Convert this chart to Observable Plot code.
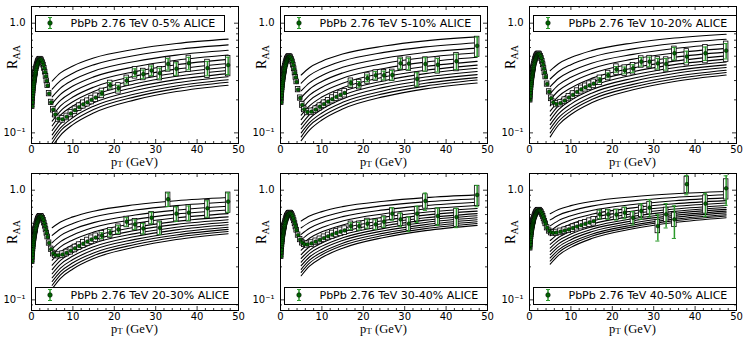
<!DOCTYPE html>
<html><head><meta charset="utf-8">
<script src="https://cdn.jsdelivr.net/npm/d3@7"></script>
<script src="https://cdn.jsdelivr.net/npm/@observablehq/plot@0.6"></script>
<style>
body{margin:0;background:#fff;}
#wrap{position:relative;width:744px;height:337px;overflow:hidden;background:#fff;}
.panel{position:absolute;}
.xl{position:absolute;font-family:"Liberation Serif",serif;font-size:12.5px;line-height:1;white-space:nowrap;transform:translateX(-50%);color:#000;}
.yl{position:absolute;font-family:"Liberation Serif",serif;font-size:14px;line-height:1;white-space:nowrap;transform:translate(-50%,-50%) rotate(-90deg);color:#000;}
.sub{font-size:10px;position:relative;top:3px;}
.xl .sub{font-size:9px;top:1px;}
.leg{position:absolute;border:1px solid #000;background:#fff;height:15.5px;line-height:15.5px;font-family:"DejaVu Sans",sans-serif;font-size:11px;padding:0 9px 0 34.5px;white-space:nowrap;color:#000;}
.leg svg{position:absolute;left:0;top:0;}
</style>
</head><body><div id="wrap"></div>
<script>
// ---------- data ----------
const centralities = ["0-5%","5-10%","10-20%","20-30%","30-40%","40-50%"];
const pT = [0.175,0.225,0.275,0.325,0.375,0.425,0.475,0.525,0.575,0.625,0.675,0.725,0.775,0.825,0.875,0.925,0.975,
 1.05,1.15,1.25,1.35,1.45,1.55,1.65,1.75,1.85,1.95,
 2.1,2.3,2.5,2.7,2.9,3.1,3.3,3.5,3.7,3.9,
 4.25,4.75,5.25,5.75,6.5,7.5,8.5,9.5,
 10.5,11.5,12.5,13.5,14.5,15.5,
 17,19,21,23,25,27,29,31,33,35,38,42.5,47.5];
const sysRel = [0.055,0.055,0.055,0.055,0.055,0.055,0.055,0.055,0.055,0.055,0.055,0.055,0.055,0.055,0.055,0.055,0.055,
 0.05,0.05,0.05,0.05,0.05,0.05,0.05,0.05,0.05,0.05,
 0.05,0.05,0.05,0.05,0.05,0.05,0.05,0.05,0.05,0.05,
 0.055,0.055,0.06,0.06,0.065,0.07,0.07,0.075,
 0.08,0.08,0.085,0.085,0.09,0.09,
 0.10,0.10,0.11,0.11,0.12,0.12,0.13,0.14,0.15,0.15,0.17,0.19,0.21];
const raa_0_5 = [0.175,0.19,0.205,0.22,0.232,0.245,0.257,0.268,0.279,0.29,0.30,0.31,0.32,0.33,0.34,0.348,0.357,
 0.37,0.385,0.40,0.413,0.425,0.437,0.447,0.455,0.462,0.467,
 0.47,0.466,0.455,0.437,0.415,0.388,0.358,0.328,0.298,0.27,
 0.228,0.19,0.163,0.147,0.135,0.133,0.14,0.15,
 0.161,0.172,0.182,0.19,0.2,0.21,
 0.23,0.272,0.256,0.30,0.355,0.343,0.37,0.35,0.425,0.385,0.432,0.39,0.415];
const raa_5_10 = [0.19,0.205,0.22,0.235,0.248,0.261,0.273,0.285,0.296,0.307,0.318,0.328,0.338,0.348,0.358,0.367,0.376,
 0.39,0.405,0.42,0.434,0.447,0.459,0.47,0.479,0.487,0.493,
 0.497,0.495,0.485,0.467,0.444,0.415,0.384,0.352,0.321,0.292,
 0.248,0.208,0.18,0.164,0.155,0.156,0.163,0.173,
 0.183,0.193,0.203,0.213,0.222,0.231,
 0.285,0.277,0.315,0.335,0.335,0.337,0.431,0.428,0.31,0.425,0.418,0.45,0.622];
const raa_10_20 = [0.20,0.216,0.232,0.247,0.261,0.275,0.288,0.300,0.312,0.323,0.334,0.345,0.355,0.365,0.375,0.384,0.393,
 0.408,0.424,0.44,0.455,0.469,0.482,0.494,0.504,0.512,0.518,
 0.524,0.525,0.517,0.5,0.477,0.449,0.418,0.386,0.354,0.324,
 0.279,0.237,0.207,0.19,0.183,0.187,0.197,0.21,
 0.222,0.236,0.249,0.26,0.271,0.281,
 0.303,0.335,0.38,0.372,0.387,0.446,0.446,0.43,0.425,0.532,0.496,0.532,0.562];
const raa_20_30 = [0.225,0.243,0.261,0.278,0.294,0.309,0.323,0.337,0.350,0.362,0.374,0.386,0.397,0.408,0.418,0.428,0.437,
 0.452,0.47,0.487,0.503,0.518,0.532,0.545,0.556,0.565,0.572,
 0.578,0.579,0.571,0.554,0.531,0.502,0.47,0.437,0.405,0.375,
 0.33,0.29,0.265,0.256,0.255,0.259,0.268,0.28,
 0.295,0.31,0.325,0.34,0.355,0.37,
 0.386,0.409,0.439,0.516,0.488,0.448,0.561,0.454,0.827,0.611,0.624,0.684,0.787];
const raa_30_40 = [0.25,0.27,0.289,0.307,0.324,0.34,0.355,0.369,0.383,0.396,0.408,0.42,0.431,0.442,0.452,0.462,0.471,
 0.486,0.504,0.521,0.537,0.552,0.566,0.579,0.59,0.6,0.608,
 0.616,0.62,0.615,0.602,0.583,0.557,0.527,0.495,0.463,0.432,
 0.39,0.355,0.333,0.322,0.32,0.327,0.339,0.352,
 0.366,0.38,0.394,0.407,0.419,0.43,
 0.471,0.471,0.495,0.488,0.516,0.611,0.542,0.495,0.611,0.798,0.582,0.569,0.906];
const raa_40_50 = [0.298,0.32,0.341,0.36,0.378,0.395,0.411,0.426,0.44,0.453,0.465,0.477,0.488,0.499,0.509,0.519,0.528,
 0.542,0.558,0.573,0.587,0.6,0.612,0.623,0.633,0.641,0.648,
 0.655,0.658,0.654,0.643,0.626,0.603,0.577,0.549,0.521,0.494,
 0.455,0.425,0.412,0.409,0.41,0.418,0.428,0.439,
 0.452,0.466,0.48,0.494,0.508,0.522,
 0.603,0.603,0.6,0.624,0.561,0.646,0.693,0.471,0.603,0.542,1.135,0.755,1.04];
// statistical (relative) errors of the bins pT >= 16 GeV
const stat_0_5   = [0.05,0.06,0.06,0.07,0.08,0.09,0.10,0.11,0.12,0.13,0.13,0.15,0.18];
const stat_5_10  = [0.06,0.06,0.07,0.08,0.09,0.10,0.11,0.12,0.14,0.14,0.14,0.16,0.20];
const stat_10_20 = [0.05,0.05,0.06,0.07,0.08,0.09,0.10,0.11,0.12,0.13,0.12,0.14,0.16];
const stat_20_30 = [0.06,0.07,0.08,0.09,0.10,0.11,0.12,0.13,0.14,0.15,0.15,0.17,0.20];
const stat_30_40 = [0.07,0.08,0.09,0.10,0.11,0.13,0.14,0.15,0.17,0.18,0.18,0.20,0.22];
const stat_40_50 = [0.09,0.10,0.11,0.12,0.14,0.16,0.18,0.27,0.25,0.33,0.20,0.24,0.30];
// model curves, sampled at curvePt
const curvePt = [5,7,10,15,25,35,47.5];
const curves_0_5 = [
 [0.297,0.352,0.408,0.482,0.579,0.653,0.716],[0.250,0.299,0.350,0.417,0.507,0.575,0.634],
 [0.213,0.256,0.303,0.365,0.448,0.512,0.566],[0.185,0.224,0.267,0.324,0.401,0.460,0.513],
 [0.162,0.198,0.237,0.290,0.362,0.418,0.468],[0.142,0.176,0.212,0.261,0.329,0.381,0.429],
 [0.128,0.158,0.192,0.238,0.302,0.352,0.396],[0.116,0.145,0.176,0.219,0.280,0.328,0.371],
 [0.105,0.132,0.162,0.203,0.261,0.306,0.347],[0.096,0.121,0.149,0.188,0.243,0.286,0.325],
 [0.088,0.111,0.138,0.175,0.226,0.268,0.305],[0.081,0.104,0.128,0.163,0.213,0.253,0.289],
 [0.075,0.095,0.119,0.152,0.200,0.238,0.272]];
const curves_5_10 = [
 [0.337,0.393,0.450,0.523,0.619,0.690,0.750],[0.284,0.334,0.386,0.453,0.542,0.608,0.664],
 [0.242,0.286,0.334,0.396,0.479,0.541,0.593],[0.210,0.250,0.294,0.352,0.429,0.486,0.537],
 [0.184,0.221,0.261,0.315,0.387,0.442,0.490],[0.161,0.197,0.234,0.283,0.352,0.403,0.449],
 [0.145,0.176,0.212,0.258,0.323,0.372,0.415],[0.132,0.162,0.194,0.238,0.299,0.347,0.388],
 [0.119,0.147,0.179,0.220,0.279,0.323,0.363],[0.109,0.135,0.164,0.204,0.260,0.302,0.340],
 [0.100,0.124,0.152,0.190,0.242,0.283,0.319],[0.092,0.116,0.141,0.177,0.228,0.267,0.303],
 [0.085,0.106,0.131,0.165,0.214,0.252,0.285]];
const curves_10_20 = [
 [0.369,0.427,0.486,0.562,0.661,0.733,0.794],[0.310,0.363,0.419,0.490,0.583,0.653,0.713],
 [0.264,0.313,0.364,0.432,0.520,0.588,0.646],[0.228,0.274,0.321,0.385,0.470,0.535,0.590],
 [0.200,0.242,0.287,0.347,0.428,0.490,0.545],[0.176,0.215,0.257,0.314,0.391,0.451,0.504],
 [0.158,0.194,0.234,0.288,0.361,0.419,0.470],[0.143,0.177,0.215,0.266,0.337,0.393,0.443],
 [0.130,0.163,0.198,0.247,0.315,0.369,0.417],[0.119,0.149,0.183,0.230,0.295,0.348,0.394],
 [0.109,0.137,0.169,0.214,0.277,0.327,0.372],[0.100,0.127,0.158,0.201,0.262,0.310,0.355],
 [0.092,0.118,0.147,0.188,0.247,0.294,0.337]];
const curves_20_30 = [
 [0.455,0.513,0.571,0.644,0.736,0.802,0.857],[0.387,0.443,0.498,0.569,0.659,0.724,0.780],
 [0.333,0.385,0.439,0.506,0.594,0.658,0.713],[0.292,0.340,0.391,0.457,0.542,0.605,0.659],
 [0.258,0.304,0.352,0.415,0.498,0.560,0.612],[0.230,0.274,0.319,0.379,0.459,0.520,0.571],
 [0.207,0.249,0.292,0.351,0.429,0.488,0.538],[0.189,0.229,0.270,0.327,0.402,0.460,0.511],
 [0.173,0.211,0.251,0.305,0.378,0.435,0.484],[0.159,0.195,0.233,0.286,0.356,0.412,0.460],
 [0.147,0.181,0.218,0.268,0.337,0.391,0.439],[0.136,0.169,0.204,0.253,0.320,0.373,0.420],
 [0.126,0.157,0.191,0.238,0.303,0.355,0.401]];
const curves_30_40 = [
 [0.524,0.581,0.638,0.708,0.794,0.855,0.906],[0.454,0.509,0.565,0.635,0.723,0.783,0.836],
 [0.396,0.450,0.505,0.574,0.661,0.723,0.776],[0.352,0.404,0.457,0.524,0.610,0.673,0.726],
 [0.315,0.365,0.417,0.482,0.568,0.630,0.682],[0.284,0.332,0.382,0.446,0.530,0.592,0.644],
 [0.259,0.305,0.353,0.416,0.499,0.560,0.612],[0.239,0.283,0.330,0.391,0.472,0.533,0.585],
 [0.221,0.264,0.309,0.368,0.449,0.508,0.560],[0.205,0.246,0.290,0.348,0.427,0.485,0.537],
 [0.190,0.230,0.272,0.329,0.406,0.465,0.515],[0.178,0.216,0.258,0.313,0.388,0.446,0.497],
 [0.166,0.203,0.243,0.296,0.371,0.428,0.478]];
const curves_40_50 = [
 [0.611,0.667,0.723,0.789,0.871,0.927,0.973],[0.536,0.592,0.647,0.716,0.800,0.859,0.908],
 [0.473,0.528,0.585,0.653,0.740,0.802,0.851],[0.424,0.479,0.535,0.603,0.690,0.752,0.804],
 [0.384,0.437,0.491,0.560,0.647,0.710,0.764],[0.348,0.400,0.454,0.521,0.610,0.673,0.726],
 [0.321,0.371,0.424,0.490,0.578,0.641,0.695],[0.297,0.347,0.398,0.463,0.551,0.614,0.668],
 [0.277,0.324,0.375,0.440,0.526,0.589,0.644],[0.258,0.304,0.354,0.418,0.502,0.566,0.621],
 [0.241,0.286,0.334,0.397,0.482,0.545,0.598],[0.226,0.270,0.318,0.380,0.463,0.526,0.581],
 [0.212,0.255,0.301,0.362,0.445,0.507,0.561]];
const xMajor = [0,10,20,30,40,50];
const xMinor = [2,4,6,8,12,14,16,18,22,24,26,28,32,34,36,38,42,44,46,48];
const yMajor = [0.1,1];
const yMinor = [0.08,0.09,0.2,0.3,0.4,0.5,0.6,0.7,0.8,0.9];

// ---------- drawing ----------
const panels = [
 {cent:centralities[0], raa:raa_0_5,   stat:stat_0_5,   curves:curves_0_5},
 {cent:centralities[1], raa:raa_5_10,  stat:stat_5_10,  curves:curves_5_10},
 {cent:centralities[2], raa:raa_10_20, stat:stat_10_20, curves:curves_10_20},
 {cent:centralities[3], raa:raa_20_30, stat:stat_20_30, curves:curves_20_30},
 {cent:centralities[4], raa:raa_30_40, stat:stat_30_40, curves:curves_30_40},
 {cent:centralities[5], raa:raa_40_50, stat:stat_40_50, curves:curves_40_50}
];
const FW = 207, FH = 137;
const colLeft = [31, 280, 529];
const rowTop = [6, 173];
const BOX = 0.55, CAP = 0.5;
const GREEN = "#2a9a2a", MARK = "#006400";
const hiStart = pT.indexOf(17);
const wrap = document.getElementById("wrap");

panels.forEach((p, k) => {
  const c = k % 3, r = Math.floor(k / 3);
  const svgLeft = c * 248, svgTop = r * 168, svgH = r ? 169 : 168;
  const ml = colLeft[c] - svgLeft, mt = rowTop[r] - svgTop;
  const mr = 248 - ml - FW, mb = svgH - mt - FH;
  const pts = pT.map((x, i) => ({x, r: p.raa[i], s: sysRel[i]}));
  const hi = pts.slice(hiStart).map((d, j) => ({...d, st: p.stat[j]}));
  const lines = p.curves.flatMap((row, id) => row.map((v, j) => ({x: curvePt[j], y: v, id})));
  const tk = {stroke: "#000", strokeWidth: 0.8};
  const chart = Plot.plot({
    width: 248, height: svgH,
    marginLeft: ml, marginRight: mr, marginTop: mt, marginBottom: mb,
    style: {background: "transparent", fontFamily: "DejaVu Sans, sans-serif", fontSize: "10px", color: "#000"},
    x: {domain: [0, 50], ticks: xMajor, tickSize: 0, tickPadding: 2, label: null},
    y: {type: "log", domain: [0.08, 1.42], ticks: yMajor, tickSize: 0, tickPadding: 6,
        tickFormat: d => (d === 1 ? "1.0" : "10\u207B\u00B9"), label: null},
    marks: [
      Plot.line(lines, {x: "x", y: "y", z: "id", stroke: "#000", strokeWidth: 1.1, curve: "monotone-x", clip: true}),
      Plot.rect(pts, {x1: d => d.x - BOX, x2: d => d.x + BOX, y1: d => d.r * (1 - d.s), y2: d => d.r * (1 + d.s),
        fill: "#fff", stroke: "#000", strokeWidth: 0.8, clip: true}),
      Plot.ruleX(hi, {x: "x", y1: d => d.r * (1 - d.st), y2: d => d.r * (1 + d.st), stroke: GREEN, strokeWidth: 1.5, clip: true}),
      Plot.ruleY(hi, {y: d => d.r * (1 - d.st), x1: d => d.x - CAP, x2: d => d.x + CAP, stroke: GREEN, strokeWidth: 1, clip: true}),
      Plot.ruleY(hi, {y: d => d.r * (1 + d.st), x1: d => d.x - CAP, x2: d => d.x + CAP, stroke: GREEN, strokeWidth: 1, clip: true}),
      Plot.dot(pts, {x: "x", y: "r", r: 1.9, fill: MARK, stroke: "#000", strokeWidth: 0.5, clip: true}),
      Plot.ruleX(xMajor, {x: d => d, insetTop: FH - 4, ...tk}),
      Plot.ruleX(xMajor, {x: d => d, insetBottom: FH - 4, ...tk}),
      Plot.ruleX(xMinor, {x: d => d, insetTop: FH - 2, ...tk}),
      Plot.ruleX(xMinor, {x: d => d, insetBottom: FH - 2, ...tk}),
      Plot.ruleY(yMajor, {y: d => d, insetRight: FW - 4, ...tk}),
      Plot.ruleY(yMajor, {y: d => d, insetLeft: FW - 4, ...tk}),
      Plot.ruleY(yMinor, {y: d => d, insetRight: FW - 2, ...tk}),
      Plot.ruleY(yMinor, {y: d => d, insetLeft: FW - 2, ...tk}),
      Plot.frame({stroke: "#000", strokeWidth: 1})
    ]
  });
  const holder = document.createElement("div");
  holder.className = "panel";
  holder.style.left = svgLeft + "px";
  holder.style.top = svgTop + "px";
  holder.appendChild(chart);
  wrap.appendChild(holder);

  const fl = colLeft[c], ft = rowTop[r], fb = ft + FH;
  // x label
  const xl = document.createElement("div");
  xl.className = "xl";
  xl.style.left = (fl + FW / 2) + "px";
  xl.style.top = (fb + 12.5) + "px";
  xl.innerHTML = 'p<span class="sub">T</span> (GeV)';
  wrap.appendChild(xl);
  // y label
  const yl = document.createElement("div");
  yl.className = "yl";
  yl.style.left = (fl - 18) + "px";
  yl.style.top = (ft + (r ? 59 : 51)) + "px";
  yl.innerHTML = 'R<span class="sub">AA</span>';
  wrap.appendChild(yl);
  // legend
  const lg = document.createElement("div");
  lg.className = "leg";
  lg.style.left = (fl + 4) + "px";
  lg.style.top = (r ? fb - 23 : ft + 8.5) + "px";
  lg.innerHTML = `<svg width="30" height="16" viewBox="0 0 30 16">
    <line x1="14" x2="14" y1="1.5" y2="12.5" stroke="${GREEN}" stroke-width="1.5"/>
    <line x1="12" x2="16" y1="1.5" y2="1.5" stroke="${GREEN}" stroke-width="1"/>
    <line x1="12" x2="16" y1="12.5" y2="12.5" stroke="${GREEN}" stroke-width="1"/>
    <circle cx="14" cy="7" r="2.3" fill="${MARK}" stroke="#000" stroke-width="0.5"/></svg>PbPb 2.76 TeV ${p.cent} ALICE`;
  wrap.appendChild(lg);
});
</script>
</body></html>
